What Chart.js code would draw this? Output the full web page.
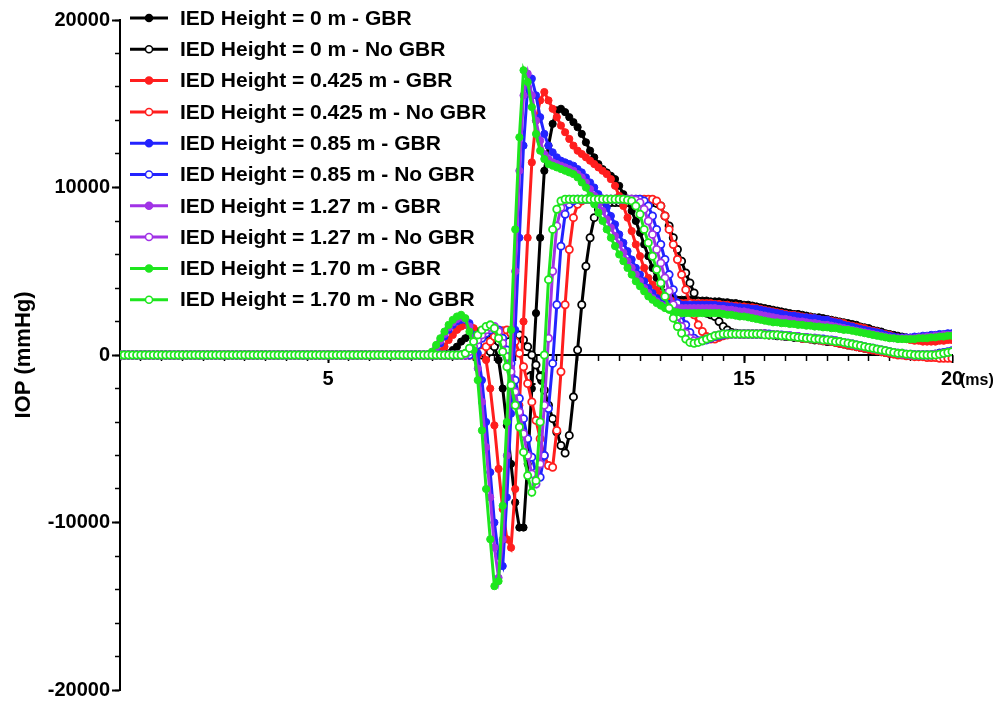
<!DOCTYPE html>
<html>
<head>
<meta charset="utf-8">
<script src="https://cdn.jsdelivr.net/npm/chart.js@4.4.1/dist/chart.umd.min.js"></script>
<style>
  html, body { margin: 0; padding: 0; background: #fff; }
  #iopChart { display: block; }
</style>
</head>
<body>
<canvas id="iopChart" width="1008" height="709"></canvas>
<script>
// time before the blast wave arrives (all gauges flat)
const timeFlat = [
    0.0, 0.1, 0.2, 0.3, 0.4, 0.5, 0.6, 0.7, 0.8, 0.9,
    1.0, 1.1, 1.2, 1.3, 1.4, 1.5, 1.6, 1.7, 1.8, 1.9,
    2.0, 2.1, 2.2, 2.3, 2.4, 2.5, 2.6, 2.7, 2.8, 2.9,
    3.0, 3.1, 3.2, 3.3, 3.4, 3.5, 3.6, 3.7, 3.8, 3.9,
    4.0, 4.1, 4.2, 4.3, 4.4, 4.5, 4.6, 4.7, 4.8, 4.9,
    5.0, 5.1, 5.2, 5.3, 5.4, 5.5, 5.6, 5.7, 5.8, 5.9,
    6.0, 6.1, 6.2, 6.3, 6.4, 6.5, 6.6, 6.7, 6.8, 6.9]
const flatIOP = [
    0, 0, 0, 0, 0, 0, 0, 0, 0, 0,
    0, 0, 0, 0, 0, 0, 0, 0, 0, 0,
    0, 0, 0, 0, 0, 0, 0, 0, 0, 0,
    0, 0, 0, 0, 0, 0, 0, 0, 0, 0,
    0, 0, 0, 0, 0, 0, 0, 0, 0, 0,
    0, 0, 0, 0, 0, 0, 0, 0, 0, 0,
    0, 0, 0, 0, 0, 0, 0, 0, 0, 0]

// 7.0 .. 20.0 ms
const timeMs = [
    7.0, 7.1, 7.2, 7.3, 7.4, 7.5, 7.6, 7.7, 7.8, 7.9,
    8.0, 8.1, 8.2, 8.3, 8.4, 8.5, 8.6, 8.7, 8.8, 8.9,
    9.0, 9.1, 9.2, 9.3, 9.4, 9.5, 9.6, 9.7, 9.8, 9.9,
    10.0, 10.1, 10.2, 10.3, 10.4, 10.5, 10.6, 10.7, 10.8, 10.9,
    11.0, 11.1, 11.2, 11.3, 11.4, 11.5, 11.6, 11.7, 11.8, 11.9,
    12.0, 12.1, 12.2, 12.3, 12.4, 12.5, 12.6, 12.7, 12.8, 12.9,
    13.0, 13.1, 13.2, 13.3, 13.4, 13.5, 13.6, 13.7, 13.8, 13.9,
    14.0, 14.1, 14.2, 14.3, 14.4, 14.5, 14.6, 14.7, 14.8, 14.9,
    15.0, 15.1, 15.2, 15.3, 15.4, 15.5, 15.6, 15.7, 15.8, 15.9,
    16.0, 16.1, 16.2, 16.3, 16.4, 16.5, 16.6, 16.7, 16.8, 16.9,
    17.0, 17.1, 17.2, 17.3, 17.4, 17.5, 17.6, 17.7, 17.8, 17.9,
    18.0, 18.1, 18.2, 18.3, 18.4, 18.5, 18.6, 18.7, 18.8, 18.9,
    19.0, 19.1, 19.2, 19.3, 19.4, 19.5, 19.6, 19.7, 19.8, 19.9,
    20.0]

const gbr0 = [
    0, 0, 0, 0, 0, 0, 0, 0, 0, 100,
    300, 500, 800, 1000, 1200, 1300, 1400, 1400, 1300, 1000,
    500, -300, -2000, -4200, -6500, -8800, -10300, -10300, -6500, -2000,
    2500, 7000, 11000, 12500, 13800, 14600, 14700, 14500, 14200, 13900,
    13600, 13200, 12700, 12200, 11800, 11400, 11100, 10900, 10700, 10500,
    10100, 9600, 9100, 8600, 8000, 7300, 6600, 5900, 5200, 4600,
    4100, 3700, 3500, 3400, 3300, 3300, 3300, 3300, 3250, 3250,
    3250, 3250, 3200, 3200, 3200, 3150, 3150, 3100, 3100, 3050,
    3000, 3000, 2950, 2900, 2850, 2800, 2750, 2700, 2650, 2600,
    2550, 2500, 2450, 2450, 2400, 2350, 2300, 2250, 2250, 2200,
    2150, 2100, 2050, 2000, 1950, 1900, 1850, 1800, 1700, 1650,
    1600, 1500, 1450, 1400, 1300, 1250, 1200, 1150, 1100, 1050,
    1000, 1000, 950, 950, 950, 950, 950, 1000, 1000, 1000,
    1000]

const noGbr0 = [
    0, 0, 0, 0, 0, 0, 0, 0, 0, 0,
    0, 0, 0, 0, 0, 0, 0, 0, 0, 200,
    500, 800, 1000, 1200, 1300, 1300, 1200, 900, 500, 0,
    -600, -1300, -2100, -3000, -3800, -4600, -5400, -5850, -4800, -2500,
    300, 3000, 5300, 7000, 8200, 8700, 8900, 9000, 9100, 9100,
    9100, 9100, 9100, 9100, 9100, 9100, 9100, 9100, 9100, 9050,
    8900, 8300, 7700, 7000, 6300, 5600, 4900, 4300, 3700, 3200,
    2800, 2500, 2400, 2300, 2000, 1700, 1500, 1350, 1300, 1250,
    1250, 1250, 1250, 1250, 1250, 1250, 1200, 1200, 1150, 1150,
    1100, 1100, 1050, 1050, 1000, 1000, 950, 900, 900, 850,
    800, 800, 750, 700, 650, 600, 550, 500, 450, 400,
    350, 300, 250, 200, 150, 100, 100, 50, 50, 0,
    0, 0, 0, 0, 0, 0, 50, 100, 100, 150,
    150]

const gbr0425 = [
    0, 0, 0, 0, 0, 0, 0, 200, 500, 900,
    1200, 1500, 1700, 1800, 1800, 1600, 1100, 400, -300, -2000,
    -4200, -6800, -9200, -11000, -11500, -8000, -3000, 2000, 7000, 11500,
    14000, 15200, 15700, 15200, 14700, 14200, 13700, 13300, 12900, 12500,
    12200, 12000, 11800, 11600, 11400, 11200, 11000, 10800, 10500, 10100,
    9500, 8900, 8200, 7400, 6600, 5900, 5200, 4600, 4200, 3900,
    3600, 3400, 3300, 3200, 3150, 3100, 3100, 3100, 3100, 3100,
    3100, 3100, 3100, 3050, 3050, 3000, 3000, 2950, 2950, 2900,
    2900, 2850, 2850, 2800, 2750, 2700, 2650, 2600, 2550, 2500,
    2450, 2400, 2400, 2350, 2300, 2250, 2250, 2200, 2150, 2100,
    2100, 2050, 2000, 1950, 1900, 1800, 1750, 1700, 1650, 1600,
    1500, 1450, 1400, 1300, 1250, 1200, 1100, 1050, 1000, 950,
    900, 850, 850, 800, 800, 800, 800, 850, 850, 900,
    900]

const noGbr0425 = [
    0, 0, 0, 0, 0, 0, 0, 0, 0, 0,
    0, 0, 0, 0, 0, 0, 0, 200, 500, 800,
    1100, 1300, 1450, 1500, 1300, 800, 100, -700, -1700, -2800,
    -3900, -5000, -6000, -6600, -6700, -4500, -1000, 3000, 6300, 8200,
    9000, 9200, 9300, 9300, 9300, 9300, 9300, 9300, 9300, 9300,
    9300, 9300, 9300, 9300, 9300, 9300, 9300, 9300, 9300, 9200,
    8900, 8300, 7500, 6600, 5700, 4800, 3900, 3100, 2400, 1800,
    1400, 1100, 950, 950, 1050, 1150, 1200, 1250, 1250, 1250,
    1250, 1250, 1250, 1250, 1250, 1250, 1200, 1200, 1200, 1150,
    1150, 1100, 1100, 1050, 1000, 1000, 950, 950, 900, 850,
    850, 800, 750, 700, 650, 600, 550, 500, 450, 400,
    350, 300, 250, 200, 150, 100, 50, 0, 0, -50,
    -50, -100, -100, -100, -150, -150, -150, -200, -200, -200,
    -200]

const gbr085 = [
    0, 0, 0, 0, 0, 0, 300, 700, 1100, 1500,
    1800, 2000, 2100, 2100, 1900, 1200, 100, -1500, -4000, -7000,
    -10000, -12000, -12600, -8500, -3500, 1500, 7000, 12500, 16000, 16500,
    15500, 14200, 13200, 12500, 12100, 11800, 11600, 11500, 11400, 11300,
    11100, 10900, 10600, 10300, 10000, 9600, 9200, 8800, 8300, 7800,
    7200, 6700, 6200, 5700, 5200, 4800, 4400, 4000, 3700, 3400,
    3200, 3100, 3050, 3000, 3000, 3000, 3000, 3000, 3000, 3000,
    3000, 3000, 3000, 3000, 2950, 2950, 2900, 2900, 2850, 2850,
    2800, 2800, 2750, 2750, 2700, 2650, 2600, 2550, 2500, 2450,
    2400, 2350, 2350, 2300, 2250, 2250, 2200, 2200, 2150, 2100,
    2100, 2000, 1950, 1900, 1800, 1750, 1700, 1600, 1550, 1500,
    1450, 1400, 1350, 1300, 1200, 1150, 1100, 1050, 1050, 1050,
    1050, 1100, 1100, 1150, 1150, 1200, 1200, 1250, 1250, 1300,
    1300]

const noGbr085 = [
    0, 0, 0, 0, 0, 0, 0, 0, 0, 0,
    0, 0, 0, 0, 0, 300, 600, 1000, 1300, 1500,
    1600, 1500, 1000, 300, -500, -1500, -2600, -3800, -5000, -6100,
    -7000, -7300, -6000, -3200, -500, 3000, 6500, 8400, 9000, 9200,
    9300, 9300, 9300, 9300, 9300, 9300, 9300, 9300, 9300, 9300,
    9300, 9300, 9300, 9300, 9300, 9300, 9200, 8900, 8300, 7500,
    6600, 5700, 4800, 3900, 3100, 2400, 1800, 1350, 1000, 850,
    850, 900, 1000, 1100, 1150, 1200, 1250, 1250, 1250, 1250,
    1250, 1250, 1250, 1250, 1250, 1250, 1250, 1200, 1200, 1200,
    1150, 1150, 1100, 1100, 1050, 1050, 1000, 1000, 950, 950,
    900, 900, 850, 800, 750, 700, 650, 600, 550, 500,
    450, 400, 350, 300, 250, 200, 150, 100, 100, 50,
    50, 0, 0, 0, 0, 0, 50, 100, 150, 200,
    250]

const gbr127 = [
    0, 0, 0, 0, 0, 100, 450, 850, 1250, 1650,
    1950, 2150, 2250, 2150, 1700, 800, -800, -2800, -5500, -8500,
    -11500, -13300, -11000, -6000, -800, 5000, 11000, 15500, 16800, 15500,
    14000, 12800, 12000, 11700, 11500, 11400, 11300, 11200, 11100, 11000,
    10800, 10600, 10300, 9900, 9500, 9000, 8600, 8100, 7600, 7100,
    6600, 6100, 5600, 5200, 4800, 4400, 4000, 3700, 3400, 3200,
    3000, 2900, 2850, 2800, 2800, 2800, 2800, 2800, 2800, 2800,
    2800, 2800, 2800, 2800, 2750, 2750, 2700, 2700, 2650, 2600,
    2600, 2550, 2500, 2450, 2400, 2350, 2300, 2250, 2200, 2150,
    2150, 2100, 2050, 2000, 2000, 1950, 1900, 1900, 1850, 1800,
    1800, 1750, 1700, 1650, 1600, 1550, 1500, 1450, 1400, 1350,
    1300, 1250, 1200, 1150, 1100, 1050, 1000, 1000, 1000, 1000,
    1000, 1000, 1050, 1050, 1100, 1100, 1150, 1150, 1200, 1200,
    1200]

const noGbr127 = [
    0, 0, 0, 0, 0, 0, 0, 0, 0, 0,
    0, 0, 0, 0, 200, 500, 900, 1200, 1500, 1650,
    1700, 1400, 700, -100, -1000, -2200, -3400, -4700, -6000, -7100,
    -7700, -6500, -3000, 1000, 5000, 7700, 8800, 9200, 9300, 9300,
    9300, 9300, 9300, 9300, 9300, 9300, 9300, 9300, 9300, 9300,
    9300, 9300, 9300, 9300, 9250, 9100, 8700, 8000, 7200, 6300,
    5500, 4600, 3800, 3000, 2300, 1700, 1300, 1000, 850, 800,
    850, 950, 1050, 1150, 1200, 1250, 1250, 1250, 1250, 1250,
    1250, 1250, 1250, 1250, 1250, 1250, 1200, 1200, 1200, 1150,
    1150, 1150, 1100, 1100, 1050, 1050, 1000, 1000, 950, 900,
    900, 850, 850, 800, 750, 700, 650, 600, 550, 500,
    450, 400, 350, 300, 250, 200, 150, 100, 50, 50,
    0, 0, 0, 0, 0, 0, 50, 50, 100, 150,
    200]

const gbr170 = [
    0, 0, 0, 0, 0, 200, 600, 1000, 1400, 1800,
    2100, 2300, 2400, 2200, 1400, 300, -1500, -4500, -8000, -11000,
    -13800, -13500, -9000, -4000, 1500, 7500, 13000, 17000, 16300, 14800,
    13200, 12200, 11700, 11400, 11300, 11200, 11100, 11000, 10900, 10800,
    10600, 10300, 10000, 9500, 9000, 8500, 8000, 7500, 7000, 6500,
    6000, 5600, 5200, 4800, 4400, 4100, 3800, 3500, 3300, 3100,
    2950, 2800, 2700, 2600, 2550, 2500, 2500, 2500, 2500, 2500,
    2500, 2500, 2500, 2500, 2500, 2450, 2400, 2400, 2350, 2300,
    2300, 2250, 2200, 2150, 2100, 2050, 2000, 1950, 1950, 1900,
    1900, 1850, 1850, 1800, 1800, 1750, 1750, 1700, 1700, 1650,
    1650, 1600, 1600, 1550, 1500, 1500, 1450, 1400, 1350, 1300,
    1250, 1200, 1150, 1100, 1050, 1000, 1000, 950, 950, 950,
    950, 950, 1000, 1000, 1000, 1050, 1050, 1100, 1100, 1150,
    1150]

const noGbr170 = [
    0, 0, 0, 0, 0, 0, 0, 0, 0, 0,
    0, 0, 0, 100, 400, 800, 1200, 1500, 1700, 1800,
    1600, 1000, 200, -700, -1800, -3000, -4300, -5800, -7200, -8200,
    -7500, -4000, 0, 4500, 7500, 8700, 9200, 9300, 9300, 9300,
    9300, 9300, 9300, 9300, 9300, 9300, 9300, 9300, 9300, 9300,
    9300, 9300, 9250, 9200, 8900, 8400, 7500, 6700, 5900, 5100,
    4300, 3500, 2800, 2200, 1700, 1300, 950, 750, 700, 750,
    850, 950, 1050, 1150, 1200, 1250, 1250, 1250, 1250, 1250,
    1250, 1250, 1250, 1250, 1250, 1200, 1200, 1200, 1200, 1150,
    1150, 1100, 1100, 1050, 1050, 1000, 1000, 950, 950, 900,
    900, 850, 800, 800, 750, 700, 650, 600, 550, 500,
    450, 400, 350, 300, 250, 200, 150, 100, 100, 50,
    50, 0, 0, 0, 0, 0, 0, 50, 100, 150,
    200]

const seriesLabels = [
    'IED Height = 0 m - GBR', 'IED Height = 0 m - No GBR',
    'IED Height = 0.425 m - GBR', 'IED Height = 0.425 m - No GBR',
    'IED Height = 0.85 m - GBR', 'IED Height = 0.85 m - No GBR',
    'IED Height = 1.27 m - GBR', 'IED Height = 1.27 m - No GBR',
    'IED Height = 1.70 m - GBR', 'IED Height = 1.70 m - No GBR'
]
const seriesValues = [gbr0, noGbr0, gbr0425, noGbr0425, gbr085, noGbr085, gbr127, noGbr127, gbr170, noGbr170]

const yTicks = [-20000, -10000, 0, 10000, 20000]
const xTicks = [5, 10, 15, 20]

// styles
const seriesColors = ['#000000', '#000000', '#ff1e1e', '#ff1e1e', '#2323ff', '#2323ff',
    '#a133e6', '#a133e6', '#1ee61e', '#1ee61e']
const FONT = '"Liberation Sans", Arial, sans-serif'

const toPoints = (values) => timeFlat.map((t, i) => ({x: t, y: flatIOP[i]}))
    .concat(timeMs.map((t, i) => ({x: t, y: values[i]})))

const datasets = seriesValues.map((values, i) => {
    const open = i % 2 == 1
    return {
        label: seriesLabels[i],
        data: toPoints(values),
        borderColor: seriesColors[i],
        borderWidth: 3,
        pointRadius: 3.6,
        pointBorderWidth: open ? 1.8 : 1,
        pointBorderColor: seriesColors[i],
        pointBackgroundColor: open ? '#ffffff' : seriesColors[i],
        tension: 0,
        order: seriesValues.length - i
    }
})

// legend drawn inside the plot, top-left
const insideLegend = {
    id: 'insideLegend',
    afterDraw(chart) {
        const ctx = chart.ctx
        ctx.save()
        ctx.font = `bold 21px ${FONT}`
        ctx.textBaseline = 'middle'
        ctx.textAlign = 'left'
        chart.data.datasets.forEach((ds, i) => {
            const y = 18 + i * 31.3
            ctx.strokeStyle = ds.borderColor
            ctx.lineWidth = 3
            ctx.beginPath()
            ctx.moveTo(130, y)
            ctx.lineTo(168, y)
            ctx.stroke()
            ctx.beginPath()
            ctx.arc(149, y, 3.5, 0, Math.PI * 2)
            ctx.fillStyle = ds.pointBackgroundColor
            ctx.fill()
            ctx.lineWidth = 1.5
            ctx.stroke()
            ctx.fillStyle = '#000'
            ctx.fillText(ds.label, 180, y + 1)
        })
        ctx.restore()
    }
}

// "(ms)" unit after the last x tick
const unitLabel = {
    id: 'unitLabel',
    afterDraw(chart) {
        const x = chart.scales.x.getPixelForValue(20)
        const y = chart.scales.y.getPixelForValue(0)
        const ctx = chart.ctx
        ctx.save()
        ctx.font = `bold 16px ${FONT}`
        ctx.fillStyle = '#000'
        ctx.textAlign = 'left'
        ctx.textBaseline = 'middle'
        ctx.fillText('(ms)', x + 8, y + 26)
        ctx.restore()
    }
}

const tickFont = {family: FONT, size: 20, weight: 'bold'}

new Chart(document.getElementById('iopChart'), {
    type: 'line',
    data: {datasets: datasets},
    plugins: [insideLegend, unitLabel],
    options: {
        responsive: false,
        animation: false,
        devicePixelRatio: 1,
        layout: {padding: {left: 0, right: 56, top: 20, bottom: 19}},
        plugins: {legend: {display: false}, tooltip: {enabled: false}},
        scales: {
            x: {
                type: 'linear', min: 0, max: 20,
                position: {y: 0},
                ticks: {stepSize: 0.5, callback: () => ''},
                grid: {drawOnChartArea: false, drawTicks: true, tickLength: 5, tickWidth: 1.5, tickColor: '#000'},
                border: {display: true, color: '#000', width: 2}
            },
            xMajor: {
                axis: 'x', type: 'linear', min: 0, max: 20,
                position: {y: 0},
                afterBuildTicks: (s) => { s.ticks = xTicks.map(v => ({value: v})) },
                ticks: {color: '#000', font: tickFont, padding: 4, maxRotation: 0, callback: (v) => String(v)},
                grid: {drawOnChartArea: false, drawTicks: true, tickLength: 8, tickWidth: 2, tickColor: '#000'},
                border: {display: false}
            },
            y: {
                type: 'linear', min: -20000, max: 20000,
                position: 'left',
                afterBuildTicks: (s) => { s.ticks = yTicks.map(v => ({value: v})) },
                afterFit: (s) => { s.width = 120 },
                ticks: {color: '#000', font: tickFont, padding: 2, callback: (v) => String(v)},
                grid: {drawOnChartArea: false, drawTicks: true, tickLength: 8, tickWidth: 2, tickColor: '#000'},
                border: {display: true, color: '#000', width: 2},
                title: {display: true, text: 'IOP (mmHg)', color: '#000',
                    font: {family: FONT, size: 22, weight: 'bold'}, padding: {top: 11, bottom: 0}}
            },
            yMinor: {
                axis: 'y', type: 'linear', min: -20000, max: 20000,
                position: {x: 0},
                ticks: {stepSize: 1000, callback: () => ''},
                grid: {drawOnChartArea: false, drawTicks: true, tickLength: 5, tickWidth: 1.5, tickColor: '#000'},
                border: {display: false}
            }
        }
    }
})
</script>
</body>
</html>
